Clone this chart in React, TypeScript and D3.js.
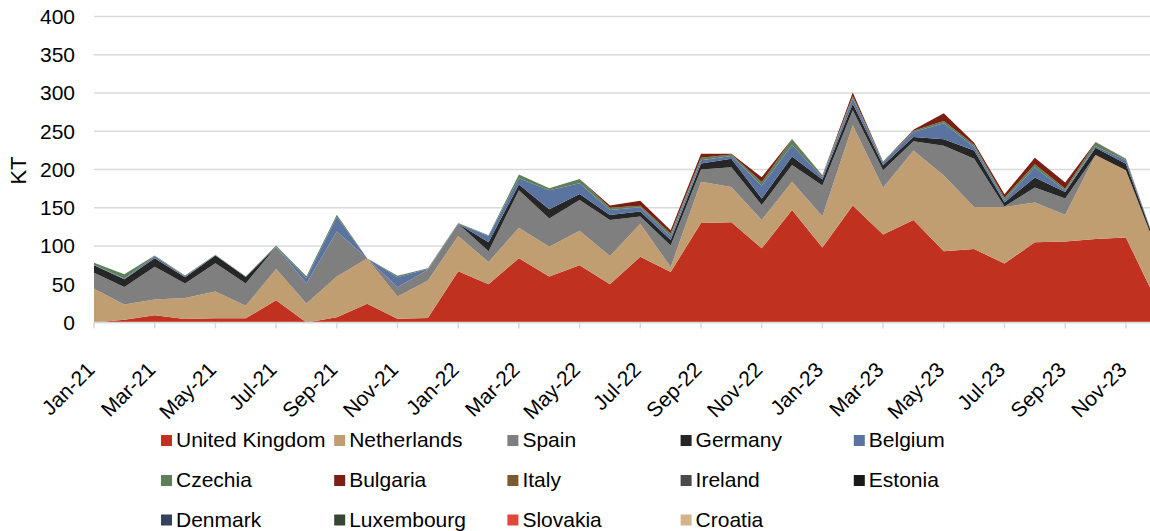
import React from "react";
import * as d3 from "d3";

const months = [
  "Jan-21","Feb-21","Mar-21","Apr-21","May-21","Jun-21","Jul-21","Aug-21","Sep-21","Oct-21","Nov-21","Dec-21",
  "Jan-22","Feb-22","Mar-22","Apr-22","May-22","Jun-22","Jul-22","Aug-22","Sep-22","Oct-22","Nov-22","Dec-22",
  "Jan-23","Feb-23","Mar-23","Apr-23","May-23","Jun-23","Jul-23","Aug-23","Sep-23","Oct-23","Nov-23","Dec-23",
];

const unitedKingdom = [0, 3.5, 9.5, 4.5, 5.5, 5.5, 29, 0, 7, 24.5, 5, 6, 67, 50, 84, 60, 75, 50, 86, 66, 130, 131, 97, 147, 98, 153, 115, 134, 93, 96, 77, 105, 106, 109, 111, 29];
const netherlands = [44, 20, 20.5, 27.5, 35, 16.5, 41, 25, 53, 59, 29, 49, 46, 29, 40, 39, 45, 37, 43, 6.5, 54, 46, 37, 37, 41, 105, 61, 91, 99, 55, 74, 52, 35, 110, 88, 68];
const spain = [21, 23, 43, 19, 37, 29, 29, 26, 59, 0.5, 12, 14, 16, 14, 49, 37, 40, 47, 9.5, 28, 16, 26, 19.5, 22, 40, 19.5, 23, 12, 39, 63, 0.5, 19.5, 21, 0, 0, 0];
const germany = [10, 10, 11, 8, 10, 8.5, 0, 0, 0, 0, 0, 0, 0, 12, 7.5, 12, 8, 6.5, 6.5, 7.5, 8, 11, 8.5, 11, 8, 8.5, 6.5, 5.5, 8.5, 11, 5.5, 13, 8.5, 9.5, 8.5, 3.5];
const belgium = [0.5, 1, 3, 1.5, 0.5, 0.5, 0.5, 7, 19, 0, 13, 1, 0.5, 8, 8, 25, 14, 6.5, 5.5, 4.5, 4, 3.5, 17, 15, 3, 7, 3.5, 6.5, 21, 4.5, 3, 13, 2, 2, 4.5, 0.5];
const czechia = [2.5, 5.5, 0.5, 1, 0.5, 0.5, 1, 2.5, 3, 0, 2, 1, 0.5, 1, 5, 2.5, 5.5, 3, 2, 4, 3.5, 2, 4.5, 7.5, 2, 3, 1.5, 1.5, 3, 3, 3, 4.5, 2.5, 5, 1.5, 0];
const bulgaria = [0, 0, 0, 0, 0, 0, 0, 0, 0, 0, 0, 0, 0, 0, 0, 0, 0, 3, 6.5, 4, 5, 1, 6.5, 0.5, 0.5, 4.5, 0, 1.5, 10, 2.5, 4.5, 8.5, 8, 0.5, 0.5, 0];
const zeros = months.map(() => 0);
const italy = zeros;
const ireland = zeros;
const estonia = zeros;
const denmark = zeros;
const luxembourg = zeros;
const slovakia = zeros;
const croatia = zeros;

const seriesNames = [
  "United Kingdom", "Netherlands", "Spain", "Germany", "Belgium",
  "Czechia", "Bulgaria", "Italy", "Ireland", "Estonia",
  "Denmark", "Luxembourg", "Slovakia", "Croatia",
];
const seriesValues = [
  unitedKingdom, netherlands, spain, germany, belgium,
  czechia, bulgaria, italy, ireland, estonia,
  denmark, luxembourg, slovakia, croatia,
];
const seriesColors = [
  "#C0311F", "#C09E72", "#7F7F7F", "#262626", "#5B73A0",
  "#5E8059", "#7B1E13", "#7A5A33", "#4A4A4A", "#1A1A1A",
  "#34425E", "#374732", "#E0483A", "#D4B48C",
];
const yTicks = [0, 50, 100, 150, 200, 250, 300, 350, 400];

const W = 1150;
const H = 531;
const FONT = "'Liberation Sans', Arial, sans-serif";

export default function App() {
  const x = d3.scaleLinear().domain([0, months.length - 1]).range([94, 94 + 35 * 30.35]);
  const y = d3.scaleLinear().domain([0, 400]).range([322.5, 16.5]);

  const table = months.map((m, i) => {
    const row: any = { month: m, i };
    seriesNames.forEach((n, k) => (row[n] = seriesValues[k][i]));
    return row;
  });
  const stacked = d3.stack<any>().keys(seriesNames)(table);
  const area = d3
    .area<any>()
    .x((d) => x(d.data.i))
    .y0((d) => y(d[0]))
    .y1((d) => y(d[1]));

  const colX = [161, 334.2, 507.4, 680.6, 853.8];
  const rowY = [447, 487, 526.5];

  return (
    <svg width={W} height={H} style={{ position: "absolute", left: 0, top: 0, background: "#fff" }} fontFamily={FONT}>
      <defs>
        <clipPath id="plot">
          <rect x={94} y={0} width={W - 94} height={323} />
        </clipPath>
      </defs>
      {yTicks.map((t) => (
        <line key={t} x1={94} x2={W} y1={y(t)} y2={y(t)} stroke="#D9D9D9" strokeWidth={1.5} />
      ))}
      <g clipPath="url(#plot)">
        {stacked.map((s, k) => (
          <path key={s.key} d={area(s) || ""} fill={seriesColors[k]} />
        ))}
      </g>
      <line x1={94} x2={W} y1={y(0)} y2={y(0)} stroke="#D9D9D9" strokeWidth={1.5} />
      {months.map((m, i) =>
        i % 2 === 0 ? (
          <g key={m}>
            <line x1={x(i)} x2={x(i)} y1={y(0)} y2={y(0) + 6} stroke="#D9D9D9" strokeWidth={1.5} />
            <text
              transform={`translate(${x(i) + 2},${371}) rotate(-45)`}
              textAnchor="end"
              fontSize={21}
              fill="#000"
            >
              {m}
            </text>
          </g>
        ) : null
      )}
      {yTicks.map((t) => (
        <text key={t} x={75} y={y(t)} dy="0.35em" textAnchor="end" fontSize={21} fill="#000">
          {t}
        </text>
      ))}
      <text transform="translate(26,170.5) rotate(-90)" textAnchor="middle" fontSize={22} fill="#000">
        KT
      </text>
      {seriesNames.map((n, k) => {
        const cx = colX[k % 5];
        const cy = rowY[Math.floor(k / 5)];
        return (
          <g key={n}>
            <rect x={cx} y={cy - 12} width={11} height={11} fill={seriesColors[k]} />
            <text x={cx + 15} y={cy} fontSize={21} fill="#000">
              {n}
            </text>
          </g>
        );
      })}
    </svg>
  );
}
